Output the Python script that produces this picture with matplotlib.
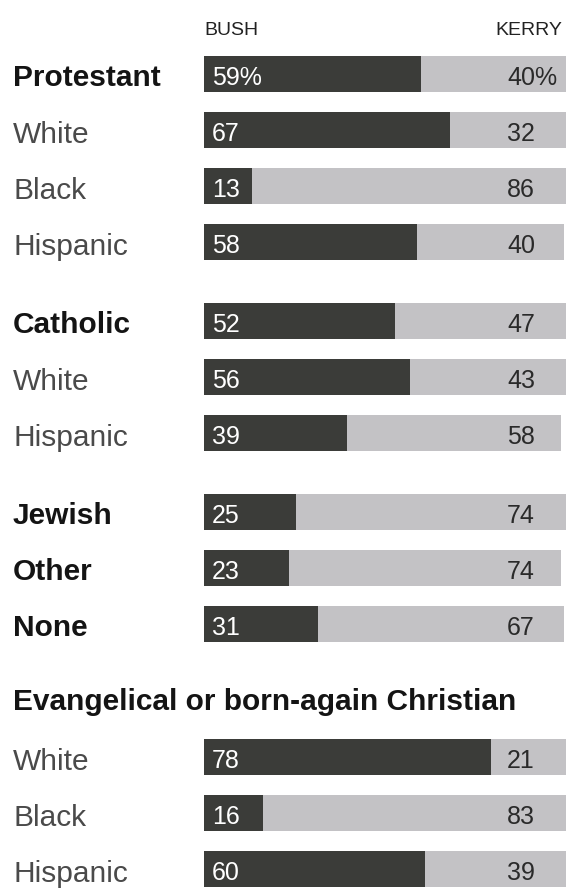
import matplotlib
matplotlib.use("Agg")
import matplotlib.pyplot as plt
from matplotlib.transforms import blended_transform_factory

# Vote by religion, 2004 exit poll (percent)
labels = ["Protestant", "White", "Black", "Hispanic",
          "Catholic", "White", "Hispanic",
          "Jewish", "Other", "None",
          "White", "Black", "Hispanic"]
bush = [59, 67, 13, 58, 52, 56, 39, 25, 23, 31, 78, 16, 60]
kerry = [40, 32, 86, 40, 47, 43, 58, 74, 74, 67, 21, 83, 39]
is_main = [True, False, False, False, True, False, False,
           True, True, True, False, False, False]
group = [0, 0, 0, 0, 1, 1, 1, 2, 2, 2, 3, 3, 3]
section_title = "Evangelical or born-again Christian"

DARK = "#3b3c39"
LIGHT = "#c3c2c5"
FONT = ["Liberation Sans", "DejaVu Sans"]

W, H = 566, 889
fig = plt.figure(figsize=(W / 100, H / 100), dpi=100)
fig.patch.set_facecolor("white")

# axes starts at the bar origin, one data unit on y = one pixel
x0, px_per_pct = 204, 3.678
ax = fig.add_axes([x0 / W, 0, (W - x0) / W, 1])
ax.set_xlim(0, (W - x0) / px_per_pct)
ax.set_ylim(H, 0)
ax.axis("off")

# row centres (pixels from top)
step, gap = 56.1, 22.5
ys = []
y = 74
title_y = None
for i in range(len(labels)):
    if i > 0:
        y += step
        if group[i] != group[i - 1]:
            y += gap
            if group[i] == 3:
                title_y = y - 3.5
                y = title_y + 58
    ys.append(y)

bar_h = 36
ax.barh(ys, bush, height=bar_h, color=DARK, linewidth=0)
ax.barh(ys, kerry, left=bush, height=bar_h, color=LIGHT, linewidth=0)

lab_tr = blended_transform_factory(fig.transFigure, ax.transData)
val_tr = blended_transform_factory(ax.transAxes, ax.transData)
kerry_x = (507 - x0) / (W - x0)

for i, (lab, b, k, yc) in enumerate(zip(labels, bush, kerry, ys)):
    if is_main[i]:
        ax.text(13 / W, yc + 12.5, lab, transform=lab_tr, fontsize=21.5,
                fontweight="bold", color="#141414", family=FONT, va="baseline")
    else:
        ax.text(13 / W, yc + 12.5, lab, transform=lab_tr, fontsize=21.5,
                color="#4a4a4a", family=FONT, va="baseline")
    suffix = "%" if i == 0 else ""
    ax.text(8 / px_per_pct, yc + 11, f"{b}{suffix}", fontsize=18,
            color="white", family=FONT, va="baseline")
    ax.text(kerry_x, yc + 11, f"{k}{suffix}", transform=val_tr, fontsize=18,
            color="#2a2a2a", family=FONT, va="baseline")

ax.text(13 / W, title_y + 11, section_title, transform=lab_tr, fontsize=21.5,
        fontweight="bold", color="#141414", family=FONT, va="baseline")

# column headers
ax.text(0, 35, "BUSH", fontsize=14, color="#222222", family=FONT, va="baseline")
ax.text(562 / W, 35, "KERRY", transform=lab_tr, fontsize=14, color="#222222",
        family=FONT, va="baseline", ha="right")

fig.savefig("out.png", dpi=100)
